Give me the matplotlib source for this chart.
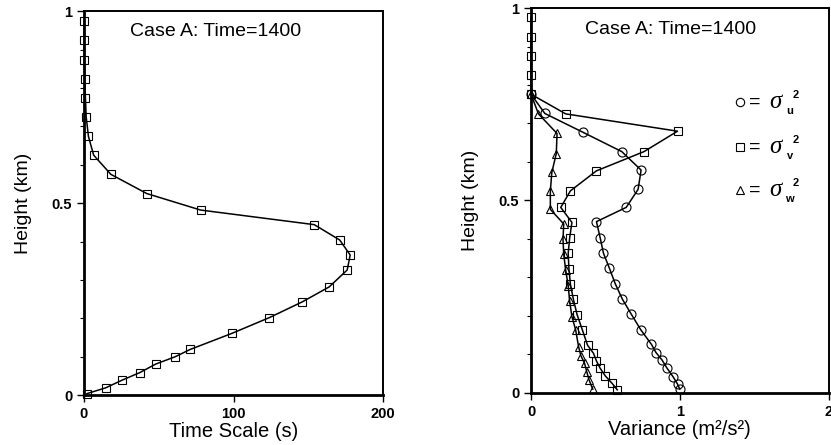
import numpy as np
import matplotlib
matplotlib.use('Agg')
import matplotlib.pyplot as plt

plt.rcParams['font.family'] = ['Liberation Sans', 'DejaVu Sans']

# left panel: time scale profile
z_left = [0.004, 0.019, 0.039, 0.059, 0.081, 0.100, 0.119, 0.161, 0.202, 0.243,
          0.282, 0.326, 0.365, 0.404, 0.444, 0.482, 0.525, 0.575, 0.625, 0.674,
          0.725, 0.775, 0.824, 0.874, 0.924, 0.975]
time_scale = [2, 14.5, 25.5, 37.5, 48, 61, 71, 99, 124, 146,
              164, 176, 178, 171, 154, 78, 42, 18, 6.5, 3,
              1.5, 1, 0.5, 0.3, 0.2, 0.1]

# right panel: variances
z_u = [0.010, 0.023, 0.042, 0.064, 0.086, 0.105, 0.126, 0.164, 0.204, 0.243,
       0.283, 0.324, 0.363, 0.403, 0.445, 0.482, 0.529, 0.579, 0.627, 0.677,
       0.726, 0.776]
var_u = [1.0, 0.985, 0.955, 0.915, 0.88, 0.84, 0.81, 0.738, 0.675, 0.615,
         0.567, 0.527, 0.487, 0.465, 0.44, 0.64, 0.72, 0.74, 0.61, 0.35,
         0.093, 0.0]

z_v = [0.008, 0.025, 0.044, 0.064, 0.083, 0.103, 0.124, 0.164, 0.203, 0.243,
       0.282, 0.322, 0.363, 0.403, 0.443, 0.482, 0.525, 0.577, 0.627, 0.680,
       0.725, 0.776, 0.826, 0.876, 0.925, 0.976]
var_v = [0.58, 0.545, 0.50, 0.465, 0.44, 0.42, 0.38, 0.345, 0.31, 0.285,
         0.265, 0.255, 0.25, 0.26, 0.275, 0.20, 0.265, 0.44, 0.76, 0.985,
         0.233, 0.0, 0.0, 0.0, 0.0, 0.0]

z_w = [0.010, 0.034, 0.055, 0.077, 0.097, 0.120, 0.164, 0.198, 0.238, 0.279,
       0.319, 0.360, 0.400, 0.439, 0.477, 0.525, 0.573, 0.622, 0.674, 0.725,
       0.776]
var_w = [0.415, 0.39, 0.375, 0.36, 0.335, 0.32, 0.30, 0.275, 0.26, 0.25,
         0.233, 0.22, 0.215, 0.22, 0.13, 0.13, 0.14, 0.17, 0.175, 0.05,
         0.0]

title = 'Case A: Time=1400'

fig = plt.figure(figsize=(8.31, 4.45), dpi=100)
ax1 = fig.add_axes([0.101, 0.112, 0.360, 0.863])
ax2 = fig.add_axes([0.639, 0.117, 0.358, 0.865])

mk = dict(color='black', lw=1.1, mfc='none', mec='black', mew=0.8)
ax1.plot(time_scale, z_left, marker='s', ms=5.8, clip_on=False, **mk)
ax2.plot(var_u, z_u, marker='o', ms=6.5, clip_on=False, **mk)
ax2.plot(var_v, z_v, marker='s', ms=5.8, clip_on=False, **mk)
ax2.plot(var_w, z_w, marker='^', ms=6, clip_on=False, **mk)

ax1.set_xlim(0, 200)
ax1.set_xticks([0, 100, 200])
ax1.set_xticklabels(['0', '100', '200'])
ax2.set_xlim(0, 2)
ax2.set_xticks([0, 1, 2])
ax2.set_xticklabels(['0', '1', '2'])

for ax in (ax1, ax2):
    ax.set_ylim(0, 1)
    ax.set_yticks([0, 0.5, 1])
    ax.set_yticklabels(['0', '0.5', '1'])
    ax.set_yticks(np.arange(0.1, 1.0, 0.1), minor=True)
    ax.tick_params(which='major', direction='out', length=5, width=1,
                   labelsize=10.5)
    ax.tick_params(which='minor', direction='out', length=3, width=0.8)
    for lbl in ax.get_xticklabels() + ax.get_yticklabels():
        lbl.set_fontweight('bold')
    for side in ('top', 'right'):
        ax.spines[side].set_linewidth(1.4)
    for side in ('bottom', 'left'):
        ax.spines[side].set_linewidth(2.0)
    ax.set_ylabel('Height (km)', fontsize=14, labelpad=14)

ax1.text(0.44, 0.948, title, transform=ax1.transAxes, ha='center',
         va='center', fontsize=14)
ax2.text(0.468, 0.943, title, transform=ax2.transAxes, ha='center',
         va='center', fontsize=14)

ax1.set_xlabel('Time Scale (s)', fontsize=14.5, labelpad=1)
ax2.set_xlabel('Variance (m\u00b2/s\u00b2)', fontsize=14.5, labelpad=1)

# hand-drawn legend at the right
legend_rows = [('o', 'u', 102), ('s', 'v', 147), ('^', 'w', 190)]
for m, sub, py in legend_rows:
    yy = (393 - py) / 385
    ax2.plot([(741.5 - 531) / 299], [yy], marker=m, ms=6, mfc='none',
             mec='black', mew=0.8, transform=ax2.transAxes, clip_on=False)
    ax2.text((756 - 531) / 299, yy, '=', transform=ax2.transAxes,
             ha='center', va='center', fontsize=14)
    ax2.text((777 - 531) / 299, yy, '\u03c3', transform=ax2.transAxes,
             ha='center', va='center', fontsize=18, family='Liberation Serif',
             style='italic')
    ax2.text((791 - 531) / 299, yy - 9 / 385, sub, transform=ax2.transAxes,
             ha='center', va='center', fontsize=8, fontweight='bold')
    ax2.text((797.5 - 531) / 299, yy + 7 / 385, '2', transform=ax2.transAxes,
             ha='center', va='center', fontsize=8, fontweight='bold')

fig.savefig('out.png', dpi=100)
